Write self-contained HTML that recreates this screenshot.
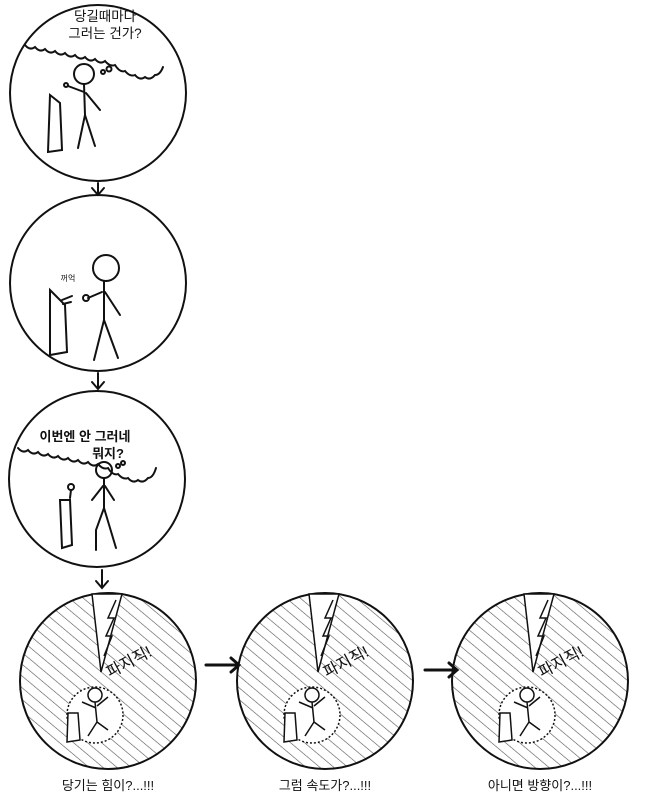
<!DOCTYPE html>
<html><head><meta charset="utf-8"><style>
body{margin:0;background:#fff;width:658px;height:800px;overflow:hidden}
svg{display:block}
text{font-family:"Liberation Sans","Noto Sans CJK KR",sans-serif}
</style></head><body>
<svg width="658" height="800" viewBox="0 0 658 800">
<defs>
<pattern id="h" width="9" height="9" patternUnits="userSpaceOnUse" patternTransform="rotate(-50)">
<line x1="0" y1="0" x2="0" y2="9" stroke="#555" stroke-width="1.2"/></pattern>
</defs>
<g fill="none" stroke="#111" stroke-width="2" stroke-linecap="round">
<circle cx="98" cy="93" r="88"/>
<path d="M25,45 q5,6 10,2 q5,6 10,2 q5,6 10,2 q5,6 10,2 q5,6 10,2 q5,6 10,2 q5,6 10,2 q5,6 10,2 q5,6 10,4 q5,8 10,6 q5,6 10,4 q5,6 10,2 q5,4 10,-2 q5,0 8,-8"/>
<circle cx="84" cy="74" r="10"/><circle cx="103" cy="72" r="2"/><circle cx="109" cy="69" r="2.5"/>
<path d="M84,84 L85,115 L78,148 M85,115 L95,146 M84,92 L68,86 M86,93 L100,110"/>
<path d="M50,95 L60,103 L62,150 L48,152 Z"/><circle cx="66" cy="85" r="2"/>
<circle cx="98" cy="283" r="88"/>
<circle cx="106" cy="268" r="13"/><path d="M104,281 L104,320 L94,360 M104,320 L118,358 M102,292 L88,298 M105,292 L120,315"/>
<path d="M50,290 L65,305 L67,352 L50,355 Z"/><circle cx="86" cy="298" r="3"/><path d="M62,300 l10,-4 M63,304 l8,-2"/>
<circle cx="97" cy="479" r="88"/>
<path d="M18,448 q5,6 10,2 q5,6 10,2 q5,6 10,2 q5,6 10,2 q5,6 10,2 q5,6 10,2 q5,6 10,2 q5,6 10,2 q5,6 10,4 q5,8 10,6 q5,6 10,4 q5,6 10,2 q5,4 10,-2 q5,0 8,-10"/>
<circle cx="104" cy="470" r="8"/><circle cx="118" cy="466" r="2"/><circle cx="123" cy="463" r="2"/>
<path d="M104,478 L104,508 L96,530 L96,550 M104,508 L110,528 L116,548 M103,486 L92,500 M105,486 L114,500"/>
<path d="M60,500 L70,500 L72,545 L62,548 Z"/><path d="M70,498 L71,490"/><circle cx="71" cy="487" r="3"/>
<path d="M98,183 V194 M92,188 l6,7 l6,-7"/>
<path d="M98,373 V388 M92,382 l6,7 l6,-7"/>
<path d="M102,570 V587 M96,581 l6,7 l6,-7"/>
<path d="M206,665 H238 M231,658 l8,7 l-8,7" stroke-width="3"/>
<path d="M425,670 H456 M449,663 l8,7 l-8,7" stroke-width="3"/>
</g>
<g id="p">
<circle cx="108" cy="681" r="88" fill="url(#h)" stroke="#111" stroke-width="2"/>
<path d="M92,594 L122,594 L101,672 Z" fill="#fff" stroke="#111" stroke-width="1.5"/>
<path d="M116,600 l-8,18 l6,0 l-8,18 l6,0 l-8,20" fill="none" stroke="#111" stroke-width="1.5"/>
<circle cx="95" cy="715" r="28" fill="#fff" stroke="#111" stroke-width="1.5" stroke-dasharray="2 2"/>
<circle cx="95" cy="695" r="7" fill="none" stroke="#111" stroke-width="1.5"/>
<path d="M95,702 L97,722 L88,736 M97,722 L108,730 M96,708 L82,702 M97,706 L108,697" fill="none" stroke="#111" stroke-width="1.5"/>
<path d="M68,713 L78,713 L80,740 L67,742 Z" fill="#fff" stroke="#111" stroke-width="1.5"/>
<text x="110" y="678" font-size="16" transform="rotate(-28 110 678)" fill="#111">파지직!</text>
</g>
<use href="#p" x="217"/>
<use href="#p" x="432"/>
<g fill="#111" font-size="13.5" text-anchor="middle">
<text x="105" y="21">당길때마다</text>
<text x="105" y="38">그러는 건가?</text>
<text x="68" y="281" font-size="8">꺼억</text>
<text x="85" y="441" font-weight="bold" font-size="13">이번엔 안 그러네</text>
<text x="108" y="458" font-weight="bold" font-size="13">뭐지?</text>
<text x="108" y="790" font-size="13">당기는 힘이?...!!!</text>
<text x="325" y="790" font-size="13">그럼 속도가?...!!!</text>
<text x="540" y="790" font-size="13">아니면 방향이?...!!!</text>
</g>
</svg>
</body></html>
